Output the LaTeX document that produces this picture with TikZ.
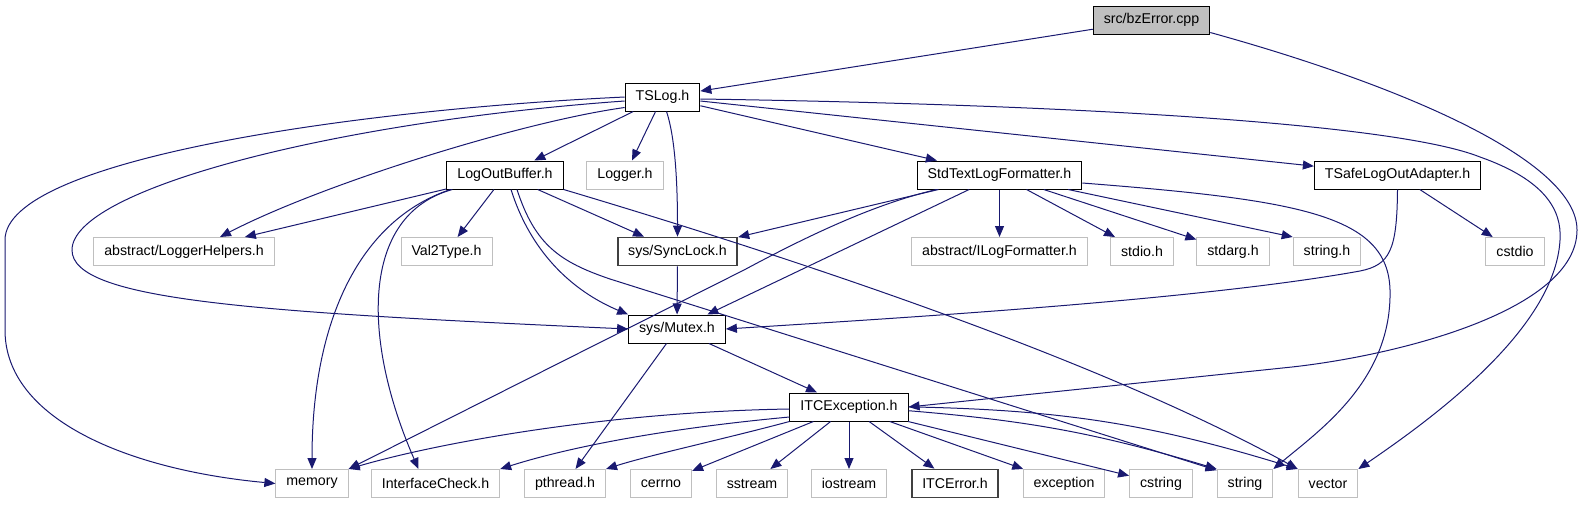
\documentclass[tikz,border=0pt]{standalone}
\usepackage{fontspec}
\setmainfont{Liberation Sans}
\usetikzlibrary{arrows.meta}

\definecolor{edgeblue}{HTML}{191970}
\definecolor{boxgray}{HTML}{BFBFBF}
\definecolor{darkrim}{HTML}{404040}

\tikzset{
    filebox/.style={rectangle, inner xsep=5.25pt, inner ysep=0pt, minimum height=14pt,
        font=\fontsize{7.1}{8}\selectfont, line width=0.5pt},
    known/.style={filebox, draw=black, fill=white},
    extern/.style={filebox, draw=boxgray, fill=white},
    leafdark/.style={filebox, draw=darkrim, line width=0.85pt, fill=white},
    root/.style={filebox, draw=black, fill=boxgray},
    incl/.style={draw=edgeblue, line width=0.5pt, -{Triangle[length=5.5pt,width=4.5pt]}}
}

\begin{document}
\begin{tikzpicture}[x=0.5pt, y=-0.5pt]
    \useasboundingbox (0,0) rectangle (1583,504);

    % Source file
    \node[root] (bzerror) at (1151.5,20) {src/bzError.cpp};

    % Headers
    \node[known] (tslog) at (662.5,97) {TSLog.h};
    \node[known] (logoutbuffer) at (505,175) {LogOutBuffer.h};
    \node[extern] (logger) at (625,175) {Logger.h};
    \node[known] (stdtext) at (999.5,175) {StdTextLogFormatter.h};
    \node[known] (tsafe) at (1397.5,175) {TSafeLogOutAdapter.h};
    \node[extern] (loggerhelpers) at (184,251.5) {abstract/LoggerHelpers.h};
    \node[extern] (val2type) at (446.5,251.5) {Val2Type.h};
    \node[leafdark] (synclock) at (677.5,251.5) {sys/SyncLock.h};
    \node[extern] (ilogformatter) at (999.5,251.5) {abstract/ILogFormatter.h};
    \node[extern] (stdioh) at (1142,251.5) {stdio.h};
    \node[extern] (stdargh) at (1233,251.5) {stdarg.h};
    \node[extern] (stringh) at (1327,251.5) {string.h};
    \node[extern] (cstdio) at (1515,251.5) {cstdio};
    \node[known] (mutex) at (677,329) {sys/Mutex.h};
    \node[known] (itcexc) at (849,407) {ITCException.h};

    % Bottom row
    \node[extern] (memory) at (312,483.5) {memory};
    \node[extern] (ifcheck) at (435.5,483.5) {InterfaceCheck.h};
    \node[extern] (pthread) at (565,483.5) {pthread.h};
    \node[extern] (cerrno) at (661,483.5) {cerrno};
    \node[extern] (sstream) at (752,483.5) {sstream};
    \node[extern] (iostream) at (849,483.5) {iostream};
    \node[leafdark] (itcerror) at (955,483.5) {ITCError.h};
    \node[extern] (exception) at (1064,483.5) {exception};
    \node[extern] (cstring) at (1161,483.5) {cstring};
    \node[extern] (string) at (1245,483.5) {string};
    \node[extern] (vector) at (1328,483.5) {vector};

    % From src/bzError.cpp
    \draw[incl] (bzerror) -- (tslog);
    \draw[incl] ([yshift=1pt]bzerror.south east) .. controls (1400,85) and (1577,160) .. (1577,230)
        .. controls (1577,310) and (1400,355) .. (1292,367) -- (itcexc.east);

    % From TSLog.h
    \draw[incl] (tslog.west) .. controls (350,110) and (5,160) .. (5,240) -- (5,330)
        .. controls (5,420) and (130,470) .. (memory.west);
    \draw[incl] ([yshift=-2pt]tslog.west) .. controls (330,122) and (72,190) .. (72,250)
        .. controls (72,300) and (250,312) .. (mutex.west);
    \draw[incl] ([yshift=2pt]tslog.south west) .. controls (520,122) and (320,185) .. ([xshift=18pt]loggerhelpers.north);
    \draw[incl] (tslog) -- (logoutbuffer);
    \draw[incl] (tslog) -- (logger);
    \draw[incl] ([xshift=2pt]tslog.south) .. controls (676,140) and (677.5,190) .. (synclock.north);
    \draw[incl] (tslog) -- (stdtext);
    \draw[incl] (tslog) -- (tsafe);
    \draw[incl] ([yshift=-1pt]tslog.east) .. controls (1100,105) and (1400,125) .. (1480,157)
        .. controls (1545,180) and (1562,210) .. (1560,240)
        .. controls (1555,330) and (1430,420) .. (vector.north east);

    % From LogOutBuffer.h
    \draw[incl] (logoutbuffer) -- (loggerhelpers);
    \draw[incl] ([xshift=2pt]logoutbuffer.south west) .. controls (360,220) and (312,320) .. (memory.north);
    \draw[incl] ([xshift=3pt]logoutbuffer.south west) .. controls (360,215) and (362,340) .. ([xshift=-8.5pt]ifcheck.north);
    \draw[incl] (logoutbuffer) -- (val2type);
    \draw[incl] ([xshift=3pt]logoutbuffer.south) .. controls (530,250) and (570,290) .. (mutex.north west);
    \draw[incl] (logoutbuffer) -- (synclock);
    \draw[incl] ([xshift=6pt]logoutbuffer.south) .. controls (535,245) and (560,262) .. (610,279) -- (string.155);
    \draw[incl] (logoutbuffer.south east) .. controls (800,260) and (1100,360) .. (vector.north west);

    % From StdTextLogFormatter.h
    \draw[incl] (stdtext) -- (synclock);
    \draw[incl] ([xshift=10pt]stdtext.south west) .. controls (870,205) and (800,240) .. (744,270) -- (memory.north east);
    \draw[incl] (stdtext) -- (mutex);
    \draw[incl] (stdtext) -- (ilogformatter);
    \draw[incl] (stdtext) -- (stdioh);
    \draw[incl] (stdtext) -- (stdargh);
    \draw[incl] (stdtext) -- (stringh.north west);
    \draw[incl] ([yshift=-4pt]stdtext.east) .. controls (1300,200) and (1388,215) .. (1390,290)
        .. controls (1392,380) and (1320,430) .. (string.north east);

    % From TSafeLogOutAdapter.h
    \draw[incl] (tsafe.south) .. controls (1397,250) and (1390,265) .. (1360,271)
        .. controls (1200,300) and (900,318) .. (mutex.east);
    \draw[incl] (tsafe) -- (cstdio);

    % From sys headers
    \draw[incl] (synclock) -- (mutex);
    \draw[incl] (mutex) -- (pthread);
    \draw[incl] (mutex) -- (itcexc);

    % From ITCException.h
    \draw[incl] ([yshift=-1pt]itcexc.west) .. controls (600,412) and (430,445) .. (memory.north east);
    \draw[incl] ([yshift=-5pt]itcexc.west) .. controls (650,430) and (560,450) .. (ifcheck.north east);
    \draw[incl] (itcexc.south west) .. controls (720,440) and (650,455) .. (pthread.north east);
    \draw[incl] (itcexc) -- (cerrno);
    \draw[incl] (itcexc) -- (sstream);
    \draw[incl] (itcexc) -- (iostream);
    \draw[incl] (itcexc) -- (itcerror);
    \draw[incl] (itcexc) -- (exception);
    \draw[incl] (itcexc) -- (cstring);
    \draw[incl] (itcexc) to[bend left=6] (string.north west);
    \draw[incl] (itcexc) to[bend left=8] (vector.north west);
\end{tikzpicture}
\end{document}
